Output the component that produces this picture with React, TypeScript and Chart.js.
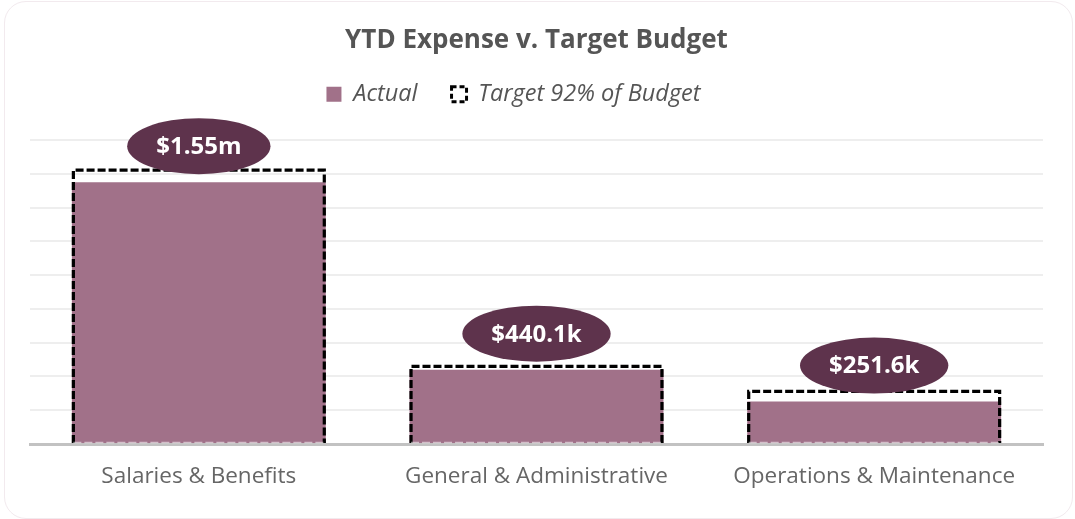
import React, { useEffect, useRef } from 'react';
import { Chart, registerables } from 'chart.js';

Chart.register(...registerables);

const categories = ['Salaries & Benefits', 'General & Administrative', 'Operations & Maintenance'];
const actualValues = [1550000, 440100, 251600];
const targetValues = [1630000, 468000, 320000];
const seriesLabels = ['Actual', 'Target 92% of Budget'];
const titleText = 'YTD Expense v. Target Budget';
const yMax = 1800000;
const yStep = 200000;

const FONT = "'Open Sans', 'Noto Sans', sans-serif";
const ACTUAL_COLOR = '#a17189';
const LABEL_BG = '#5e334c';

function formatMoney(v: number): string {
  if (v >= 1000000) return '$' + (v / 1000000).toFixed(2) + 'm';
  return '$' + (v / 1000).toFixed(1) + 'k';
}

const legendSpacer = {
  id: 'legendSpacer',
  beforeUpdate(chart: any) {
    const legend = chart.legend;
    if (legend && !legend.__patched) {
      const orig = legend.fit;
      legend.fit = function () {
        orig.call(this);
        this.height += 23.9;
        if (this.lineWidths && this.lineWidths.length) this.lineWidths[0] += 46;
      };
      legend.__patched = true;
    }
  },
};

const targetOutline = {
  id: 'targetOutline',
  afterDatasetsDraw(chart: any) {
    const meta = chart.getDatasetMeta(1);
    const ctx = chart.ctx;
    ctx.save();
    meta.data.forEach((el: any) => {
      const { x, y, base, width } = el.getProps(['x', 'y', 'base', 'width'], true);
      const l = x - width / 2 + 1.5;
      const r = x + width / 2 - 1.5;
      const t = y + 1.5;
      const b = base;
      ctx.setLineDash([8, 3]);
      ctx.lineWidth = 3.2;
      ctx.strokeStyle = '#000';
      ctx.beginPath();
      ctx.moveTo(l, b);
      ctx.lineTo(l, t);
      ctx.lineTo(r, t);
      ctx.lineTo(r, b);
      ctx.stroke();
      ctx.strokeStyle = 'rgba(255,255,255,0.55)';
      ctx.lineWidth = 1.5;
      ctx.beginPath();
      ctx.moveTo(l, b - 0.5);
      ctx.lineTo(r, b - 0.5);
      ctx.stroke();
    });
    ctx.restore();
  },
};

const valueBubbles = {
  id: 'valueBubbles',
  afterDatasetsDraw(chart: any) {
    const meta = chart.getDatasetMeta(0);
    const ctx = chart.ctx;
    ctx.save();
    ctx.font = `bold 24px ${FONT}`;
    ctx.textAlign = 'center';
    ctx.textBaseline = 'middle';
    meta.data.forEach((el: any, i: number) => {
      const { x, y } = el.getProps(['x', 'y'], true);
      const text = formatMoney(actualValues[i]);
      const tw = ctx.measureText(text).width;
      const cy = y - 36;
      ctx.fillStyle = LABEL_BG;
      ctx.beginPath();
      ctx.ellipse(x, cy, tw / 2 + 29, 28, 0, 0, Math.PI * 2);
      ctx.fill();
      ctx.fillStyle = '#ffffff';
      ctx.fillText(text, x, cy + 1);
    });
    ctx.restore();
  },
};

export default function App() {
  const canvasRef = useRef<HTMLCanvasElement | null>(null);

  useEffect(() => {
    if (!canvasRef.current) return;
    const chart = new Chart(canvasRef.current, {
      type: 'bar',
      data: {
        labels: categories,
        datasets: [
          {
            label: seriesLabels[0],
            data: actualValues,
            backgroundColor: ACTUAL_COLOR,
            borderWidth: 0,
            grouped: false,
            categoryPercentage: 0.752,
            barPercentage: 1,
          },
          {
            label: seriesLabels[1],
            data: targetValues,
            backgroundColor: 'rgba(0,0,0,0)',
            borderWidth: 0,
            grouped: false,
            categoryPercentage: 0.752,
            barPercentage: 1,
          },
        ],
      },
      options: {
        animation: false,
        responsive: false,
        maintainAspectRatio: false,
        layout: { padding: { left: 30, right: 32, top: 0, bottom: 10 } },
        plugins: {
          title: {
            display: true,
            text: titleText,
            color: '#555555',
            font: { family: FONT, size: 26, weight: 'bold' },
            padding: { top: 25, bottom: -7.6 },
          },
          legend: {
            display: true,
            position: 'top',
            labels: {
              font: { family: FONT, size: 23.5, style: 'italic' },
              color: '#555555',
              boxWidth: 15,
              boxHeight: 15,
              padding: 34,
              generateLabels: () => [
                {
                  text: seriesLabels[0],
                  fillStyle: ACTUAL_COLOR,
                  strokeStyle: ACTUAL_COLOR,
                  lineWidth: 0,
                  hidden: false,
                  datasetIndex: 0,
                  fontColor: '#555555',
                },
                {
                  text: seriesLabels[1],
                  fillStyle: 'rgba(0,0,0,0)',
                  strokeStyle: '#000000',
                  lineWidth: 3,
                  lineDash: [5, 3],
                  hidden: false,
                  datasetIndex: 1,
                  fontColor: '#555555',
                },
              ],
            },
          },
          tooltip: { enabled: false },
        },
        scales: {
          x: {
            grid: { display: false, drawTicks: false },
            border: { display: true, color: '#c2c2c2', width: 3 },
            ticks: {
              color: '#666666',
              font: { family: FONT, size: 22.5 },
              padding: 19,
            },
          },
          y: {
            min: 0,
            max: yMax,
            border: { display: false },
            grid: { color: '#eeeeee', lineWidth: 2, drawTicks: false },
            ticks: { display: false, stepSize: yStep },
          },
        },
      },
      plugins: [legendSpacer, targetOutline, valueBubbles],
    } as any);
    return () => chart.destroy();
  }, []);

  return (
    <div style={{ position: 'fixed', left: 0, top: 0, width: 1075, height: 519, background: '#fff' }}>
      <div
        style={{
          position: 'absolute',
          left: 4,
          top: 1,
          width: 1069,
          height: 518,
          boxSizing: 'border-box',
          border: '1.5px solid #f2eaee',
          borderRadius: 22,
        }}
      />
      <canvas
        ref={canvasRef}
        width={1075}
        height={519}
        style={{ position: 'absolute', left: 0, top: 0, width: 1075, height: 519 }}
      />
    </div>
  );
}
